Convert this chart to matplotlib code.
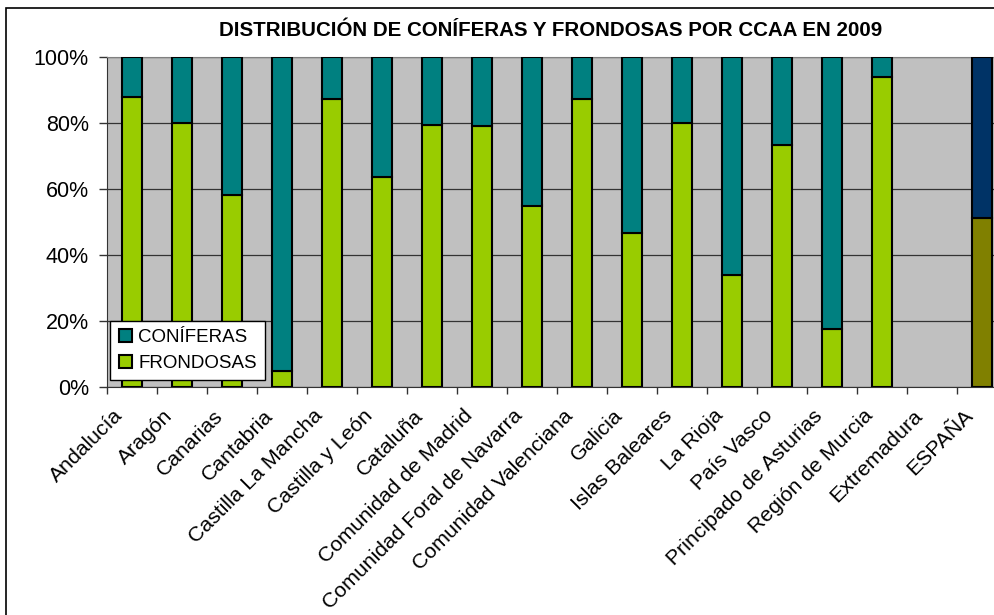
import numpy as np
import matplotlib.pyplot as plt
import matplotlib.transforms as mtransforms
from matplotlib.patches import Rectangle

plt.rcParams['font.family'] = ['Liberation Sans', 'DejaVu Sans']

regiones = ['Andalucía', 'Aragón', 'Canarias', 'Cantabria', 'Castilla La Mancha',
            'Castilla y León', 'Cataluña', 'Comunidad de Madrid',
            'Comunidad Foral de Navarra', 'Comunidad Valenciana', 'Galicia',
            'Islas Baleares', 'La Rioja', 'País Vasco', 'Principado de Asturias',
            'Región de Murcia', 'Extremadura', 'ESPAÑA']
frondosas = [87.8, 79.9, 58.2, 4.9, 87.3, 63.5, 79.3, 79.2, 55.0, 87.3,
             46.6, 79.9, 33.9, 73.2, 17.5, 93.8, 0.0, 51.3]
coniferas = [12.2, 20.1, 41.8, 95.1, 12.7, 36.5, 20.7, 20.8, 45.0, 12.7,
             53.4, 20.1, 66.1, 26.8, 82.5, 6.2, 0.0, 48.7]

W, H = 994, 615
fig = plt.figure(figsize=(W / 100, H / 100), dpi=100)

# outer chart border (cropped on right and bottom)
fig.patches.append(Rectangle((6 / W, -0.1), 1.2, 1 - 8 / H + 0.1, transform=fig.transFigure,
                             fill=False, edgecolor='black', linewidth=1.2))

left, right, top, bottom = 107, 1007, 57, 387
ax = fig.add_axes([left / W, 1 - bottom / H, (right - left) / W, (bottom - top) / H])
ax.set_facecolor('#C0C0C0')

x = np.arange(len(regiones))
col_f = ['#99CC00'] * (len(regiones) - 1) + ['#808000']
col_c = ['#008080'] * (len(regiones) - 1) + ['#003366']
lw_f = [1.5 if v > 0 else 0 for v in frondosas]
lw_c = [1.5 if v > 0 else 0 for v in coniferas]
ax.bar(x, frondosas, width=0.4, color=col_f, edgecolor='black', linewidth=lw_f,
       label='FRONDOSAS', zorder=3)
ax.bar(x, coniferas, width=0.4, bottom=frondosas, color=col_c, edgecolor='black',
       linewidth=lw_c, label='CONÍFERAS', zorder=3)

ax.set_xlim(-0.5, len(regiones) - 0.5)
ax.set_ylim(0, 100)
ax.set_yticks(range(0, 101, 20))
ax.set_yticklabels([f'{v}%' for v in range(0, 101, 20)], fontsize=15.5)
ax.yaxis.grid(True, color='#333333', linewidth=0.9, zorder=1)
ax.tick_params(axis='y', length=6, width=1, pad=7, color='#333333')

ax.set_xticks(np.arange(-0.5, len(regiones), 1))
ax.set_xticklabels([])
ax.tick_params(axis='x', which='major', length=5, width=1, color='#333333')
ax.set_xticks(x, minor=True)
ax.set_xticklabels(regiones, minor=True, rotation=45, ha='right', va='top',
                   rotation_mode='anchor', fontsize=15.3)
ax.tick_params(axis='x', which='minor', length=0, pad=8)
shift = mtransforms.ScaledTranslation(-19 / 100, -8 / 100, fig.dpi_scale_trans)
for lab in ax.xaxis.get_minorticklabels():
    lab.set_transform(lab.get_transform() + shift)

for s in ['top', 'right']:
    ax.spines[s].set_color('#808080')
ax.spines['left'].set_color('#333333')
ax.spines['bottom'].set_color('#333333')

h, l = ax.get_legend_handles_labels()
leg = ax.legend(h[::-1], l[::-1], loc='lower left', bbox_to_anchor=(0.0035, 0.02),
                borderaxespad=0, fontsize=13.5, frameon=True, fancybox=False,
                handlelength=0.7, handleheight=0.7, handletextpad=0.35,
                borderpad=0.45, labelspacing=0.45)
leg.get_frame().set_edgecolor('black')
leg.get_frame().set_linewidth(1)
leg.get_frame().set_alpha(1)

fig.text(551 / W, 1 - 30 / H, 'DISTRIBUCIÓN DE CONÍFERAS Y FRONDOSAS POR CCAA EN 2009',
         ha='center', va='center', fontsize=14.8, fontweight='bold')

fig.savefig('out.png', dpi=100)
